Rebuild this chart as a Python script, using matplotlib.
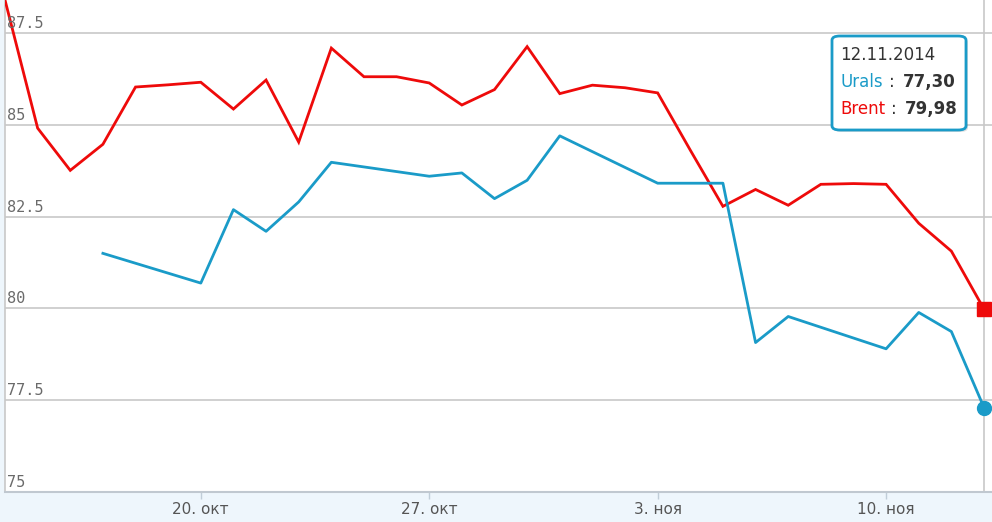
import numpy as np
import matplotlib
matplotlib.use("Agg")
import matplotlib.pyplot as plt
import matplotlib.dates as mdates
from matplotlib.patches import FancyBboxPatch
import datetime as dt

# ---- data ----
start = dt.date(2014, 10, 14)
dates = [start + dt.timedelta(days=i) for i in range(31)]
nan = np.nan
brent = [88.4, 84.91, 83.76, 84.47, 86.03, 86.09, 86.16, 85.43, 86.22, 84.53,
         87.09, 86.31, 86.31, 86.14, 85.54, 85.96, 87.13, 85.85, 86.08, 86.01,
         85.87, 84.31, 82.78, 83.24, 82.81, 83.38, 83.40, 83.38, 82.32, 81.56,
         79.98]
urals = [nan, nan, nan, 81.50, nan, nan, 80.69, 82.69, 82.10, 82.90,
         83.98, nan, nan, 83.60, 83.69, 82.99, 83.49, 84.70, nan, nan,
         83.41, nan, 83.41, 79.07, 79.78, nan, nan, 78.90, 79.89, 79.37,
         77.30]
tick_dates = [dt.date(2014, 10, 20), dt.date(2014, 10, 27),
              dt.date(2014, 11, 3), dt.date(2014, 11, 10)]
tick_labels = ["20. окт", "27. окт", "3. ноя", "10. ноя"]
y_ticks = [75, 77.5, 80, 82.5, 85, 87.5]
y_labels = ["75", "77.5", "80", "82.5", "85", "87.5"]
tip_date = "12.11.2014"
tip_urals = "77,30"
tip_brent = "79,98"

RED = "#ee0a0a"
BLUE = "#1a9bc8"

W, H = 992, 522
fig = plt.figure(figsize=(W / 100, H / 100), dpi=100)
fig.patch.set_facecolor("#eef6fc")

ax_left = 5 / W
ax_bottom = (H - 492) / H
ax = fig.add_axes([ax_left, ax_bottom, 1 - ax_left, 1 - ax_bottom])
ax.set_facecolor("white")

xd = mdates.date2num(dates)
ub = np.array(urals, dtype=float)
mask = ~np.isnan(ub)

ax.plot(xd, brent, color=RED, lw=2.0, solid_joinstyle="miter", zorder=3)
ax.plot(xd[mask], ub[mask], color=BLUE, lw=2.0, zorder=3)
ax.plot([xd[-1]], [brent[-1]], marker="s", ms=9.5, color=RED, zorder=5,
        clip_on=False)
ax.plot([xd[-1]], [urals[-1]], marker="o", ms=10, color=BLUE, zorder=5,
        clip_on=False)

px_per_day = (984 - 5) / 30.0
ax.set_xlim(xd[0], xd[0] + (992 - 5) / px_per_day)
ax.set_ylim(75, 88.4)

# gridlines
for v in y_ticks:
    ax.axhline(v, color="#c8c8c8", lw=1.2, zorder=1)
# crosshair
ax.axvline(xd[-1], color="#c8c8c8", lw=1.2, zorder=1)

ax.set_yticks([])
ax.set_xticks(mdates.date2num(tick_dates))
ax.set_xticklabels(tick_labels, fontsize=11, color="#555555",
                   family="DejaVu Sans")
ax.tick_params(axis="x", length=5, width=1, color="#c0cdd8", pad=2)

for s in ["top", "right"]:
    ax.spines[s].set_visible(False)
ax.spines["bottom"].set_color("#c0c8d0")
ax.spines["bottom"].set_linewidth(1.5)
ax.spines["left"].set_color("#c8c8c8")
ax.spines["left"].set_linewidth(1.2)

for v, lab in zip(y_ticks, y_labels):
    ax.annotate(lab, xy=(0, v), xycoords=("axes fraction", "data"),
                xytext=(2, 2), textcoords="offset pixels",
                ha="left", va="bottom", fontsize=11, color="#6a6a6a",
                family="DejaVu Sans Mono", zorder=4)

# tooltip
def fx(px):
    return px / W

def fy(py):
    return 1 - py / H

bx0, by0, bx1, by1 = 832, 36, 966, 130
shadow = FancyBboxPatch((fx(bx0 + 2), fy(by1 + 2)), fx(bx1 - bx0), (by1 - by0) / H,
                        boxstyle="round,pad=0,rounding_size=0.008",
                        transform=fig.transFigure, facecolor="#000000",
                        alpha=0.12, edgecolor="none", zorder=8)
fig.patches.append(shadow)
box = FancyBboxPatch((fx(bx0), fy(by1)), fx(bx1 - bx0), (by1 - by0) / H,
                     boxstyle="round,pad=0,rounding_size=0.008",
                     transform=fig.transFigure, facecolor="white",
                     edgecolor=BLUE, lw=2.0, zorder=9)
fig.patches.append(box)

fs = 12
fig.text(fx(840), fy(55), tip_date, fontsize=fs, color="#333333",
         ha="left", va="center", zorder=10, family="DejaVu Sans")
fig.text(fx(840), fy(82), "Urals", fontsize=fs, color=BLUE,
         ha="left", va="center", zorder=10)
fig.text(fx(889), fy(82), ":", fontsize=fs, color="#333333",
         ha="left", va="center", zorder=10)
fig.text(fx(903), fy(82), tip_urals, fontsize=fs, color="#333333",
         weight="bold", ha="left", va="center", zorder=10)
fig.text(fx(840), fy(109), "Brent", fontsize=fs, color=RED,
         ha="left", va="center", zorder=10)
fig.text(fx(891), fy(109), ":", fontsize=fs, color="#333333",
         ha="left", va="center", zorder=10)
fig.text(fx(905), fy(109), tip_brent, fontsize=fs, color="#333333",
         weight="bold", ha="left", va="center", zorder=10)

fig.savefig("out.png", dpi=100, facecolor=fig.get_facecolor())
